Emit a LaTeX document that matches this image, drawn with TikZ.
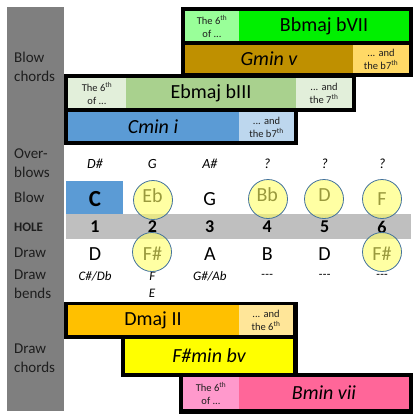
\documentclass[tikz,border=0pt]{standalone}
\usepackage{fontspec}
\setmainfont{Carlito}
\usepackage{xcolor}
\usetikzlibrary{positioning}
\definecolor{hpgray}{RGB}{127, 127, 127}
\definecolor{hpband}{RGB}{191, 191, 191}
\definecolor{hptext}{RGB}{30, 30, 30}
\definecolor{hpblue}{RGB}{91, 155, 213}
\definecolor{hplightblue}{RGB}{189, 215, 238}
\definecolor{hpgreen}{RGB}{0, 240, 0}
\definecolor{hplightgreen}{RGB}{153, 255, 153}
\definecolor{hpgold}{RGB}{191, 144, 0}
\definecolor{hplightgold}{RGB}{255, 217, 102}
\definecolor{hpsage}{RGB}{169, 209, 142}
\definecolor{hplightsage}{RGB}{226, 239, 218}
\definecolor{hporange}{RGB}{255, 192, 0}
\definecolor{hplightorange}{RGB}{255, 230, 153}
\definecolor{hpyellow}{RGB}{255, 255, 0}
\definecolor{hppink}{RGB}{255, 102, 153}
\definecolor{hplightpink}{RGB}{255, 153, 204}
\definecolor{hpring}{RGB}{65, 113, 156}
\definecolor{hpmark}{RGB}{255, 255, 102}
\newcommand{\sixth}{The 6\textsuperscript{th}\\of ...}
\newcommand{\seventh}[1]{... and\\the #1\textsuperscript{th}}

\begin{document}
\begin{tikzpicture}[x=1pt, y=-1pt,
    every node/.style={inner sep=0pt},
    rowlabel/.style={anchor=west, align=left, text=hptext,
      font=\fontsize{15}{18.5}\selectfont},
    chord/.style={font=\fontsize{20}{24}\selectfont},
    chordit/.style={font=\fontsize{20}{24}\selectfont\itshape},
    cellnote/.style={align=center, text=hptext,
      font=\fontsize{10.5}{13}\selectfont},
    overblow/.style={font=\fontsize{14}{16}\selectfont\itshape},
    blownote/.style={font=\fontsize{20}{24}\selectfont},
    holenum/.style={font=\fontsize{18}{20}\selectfont\bfseries},
    bendnote/.style={font=\fontsize{13}{15}\selectfont\itshape},
    hit/.style={circle, draw=hpring, line width=0.8pt, fill=hpmark,
      fill opacity=0.6, minimum size=39pt}]

  \useasboundingbox (0,0) rectangle (420,418);

  % --- left label column ---
  \fill[hpgray] (7,7) rectangle (64,411);
  \node[rowlabel] (lblBlowChords) at (14,67) {Blow\\chords};
  \node[rowlabel] (lblOver) at (14,163) {Over-\\blows};
  \node[rowlabel] (lblBlow) at (14,197) {Blow};
  \node[rowlabel, font=\fontsize{13}{15}\selectfont\bfseries] (lblHole) at (14,227) {HOLE};
  \node[rowlabel] (lblDraw) at (14,253) {Draw};
  \node[rowlabel] (lblBends) at (14,284) {Draw\\bends};
  \node[rowlabel] (lblDrawChords) at (14,358) {Draw\\chords};

  % --- blow chords ---
  \fill[black] (181,7) rectangle (413,77);
  \fill[hplightgreen] (185,11) rectangle (239,41);
  \fill[hpgreen] (239,11) rectangle (409,41);
  \fill[hpgold] (185,45) rectangle (353,73);
  \fill[hplightgold] (353,45) rectangle (409,73);
  \node[cellnote] (bbSixth) at (212,26) {\sixth};
  \node[chord] (bbChord) at (324,26) {Bbmaj bVII};
  \node[chordit] (gmChord) at (269,59) {Gmin v};
  \node[cellnote] (gmSeventh) at (381,59) {\seventh{b7}};

  \fill[black] (64,74) rectangle (356,112);
  \fill[black] (64,108) rectangle (298,145);
  \fill[hplightsage] (68,78) rectangle (126,108);
  \fill[hpsage] (126,78) rectangle (296,108);
  \fill[hplightsage] (296,78) rectangle (352,108);
  \fill[hpblue] (68,112) rectangle (239,141);
  \fill[hplightblue] (239,112) rectangle (294,141);
  \node[cellnote] (ebSixth) at (97,93) {\sixth};
  \node[chord] (ebChord) at (211,93) {Ebmaj bIII};
  \node[cellnote] (ebSeventh) at (324,93) {\seventh{7}};
  \node[chordit] (cmChord) at (153,127) {Cmin i};
  \node[cellnote] (cmSeventh) at (266.5,127) {\seventh{b7}};

  % --- hole grid ---
  \fill[hpblue] (66,181) rectangle (123,214);
  \fill[hpband] (66,214) rectangle (411,239);

  \foreach \n [count=\i] in {D\#, G, A\#, ?, ?, ?}
    \node[overblow] (ob\i) at ({95+57.4*(\i-1)},164) {\n};
  \node[blownote, font=\fontsize{23}{26}\selectfont\bfseries] (blow1) at (95,199) {C};
  \foreach \n/\y [count=\i from 2] in {Eb/196, G/199, Bb/195, D/195, F/199}
    \node[blownote] (blow\i) at ({95+57.4*(\i-1)},\y) {\n};
  \foreach \i in {1,...,6}
    \node[holenum] (hole\i) at ({95+57.4*(\i-1)},227) {\i};
  \foreach \n [count=\i] in {D, F\#, A, B, D, F\#}
    \node[blownote] (draw\i) at ({95+57.4*(\i-1)},254) {\n};
  \foreach \n [count=\i] in {C\#/Db, F, G\#/Ab, -{}-{}-, -{}-{}-, -{}-{}-}
    \node[bendnote] (bend\i) at ({95+57.4*(\i-1)},276) {\n};
  \node[bendnote] (bendTwoLow) at (152,293) {E};

  % --- highlighted notes ---
  \node[hit] (ringEb) at (153,200) {};
  \node[hit] (ringBb) at (268,199) {};
  \node[hit] (ringD) at (324,199) {};
  \node[hit] (ringF) at (382,199) {};
  \node[hit] (ringFsLow) at (152,252) {};
  \node[hit] (ringFsHigh) at (382,252) {};

  % --- draw chords ---
  \fill[black] (64,302) rectangle (298,339);
  \fill[hporange] (68,305) rectangle (239,335);
  \fill[hplightorange] (239,305) rectangle (293,335);
  \node[chord] (dmChord) at (153,320) {Dmaj II};
  \node[cellnote] (dmSixth) at (266,320) {\seventh{6}};

  \fill[black] (121,335) rectangle (298,377);
  \fill[hpyellow] (125,339) rectangle (293,373);
  \node[chordit] (fsChord) at (209,356) {F\#min bv};

  \fill[black] (179,373) rectangle (413,414);
  \fill[hplightpink] (183,377) rectangle (239,409);
  \fill[hppink] (239,377) rectangle (409,409);
  \node[cellnote] (bmSixth) at (211,393) {\sixth};
  \node[chordit] (bmChord) at (324,393) {Bmin vii};

\end{tikzpicture}
\end{document}
